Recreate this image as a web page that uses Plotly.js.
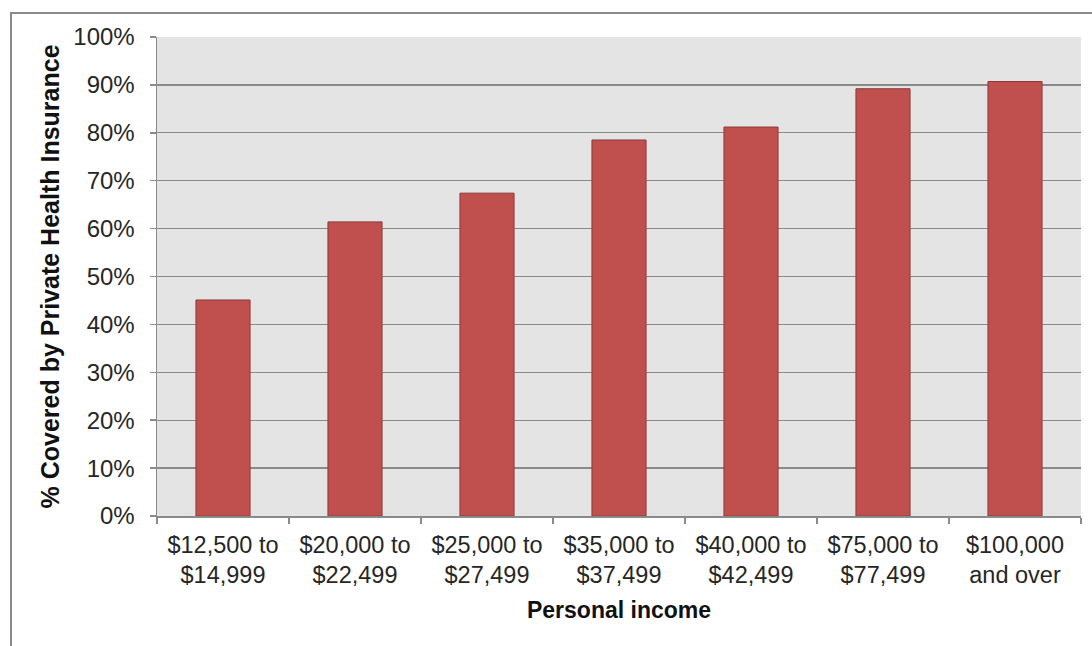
<!DOCTYPE html>
<html><head><meta charset="utf-8">
<script src="https://cdn.plot.ly/plotly-3.0.1.min.js"></script>
<style>
html,body{margin:0;padding:0;background:#fff;}
#chart{width:1092px;height:646px;}
#frame{position:absolute;left:10px;top:12px;width:1200px;height:800px;border-left:2px solid #8a8a8a;border-top:2px solid #8a8a8a;pointer-events:none;}
</style></head>
<body>
<div id="chart"></div>
<div id="frame"></div>
<script>
const categories = ["$12,500 to<br>$14,999","$20,000 to<br>$22,499","$25,000 to<br>$27,499","$35,000 to<br>$37,499","$40,000 to<br>$42,499","$75,000 to<br>$77,499","$100,000<br>and over"];
const coverage = [0.451, 0.614, 0.674, 0.785, 0.812, 0.892, 0.907];
const yTickVals = [0,0.1,0.2,0.3,0.4,0.5,0.6,0.7,0.8,0.9,1.0];
const yTickText = ["0%","10%","20%","30%","40%","50%","60%","70%","80%","90%","100%"];

const font = "Liberation Sans, Arial, sans-serif";
Plotly.newPlot("chart", [{
  type: "bar",
  x: categories,
  y: coverage,
  width: 0.41,
  marker: {color: "#C0504D", line: {color: "#8C3A38", width: 1}},
  hoverinfo: "none"
}], {
  width: 1092, height: 646,
  margin: {l: 157, r: 11, t: 37, b: 130},
  paper_bgcolor: "#ffffff",
  plot_bgcolor: "#E4E4E4",
  showlegend: false,
  font: {family: font, size: 24, color: "#262626"},
  xaxis: {
    type: "category",
    tickson: "boundaries",
    ticks: "outside", ticklen: 6, tickcolor: "#8a8a8a", tickwidth: 1.5,
    showline: true, linecolor: "#8a8a8a", linewidth: 1.5,
    showgrid: false,
    ticklabelstandoff: 7,
    tickfont: {family: font, size: 23.5, color: "#262626"},
    title: {text: "<b>Personal income</b>", font: {family: font, size: 23, color: "#111"}, standoff: 14},
    fixedrange: true
  },
  yaxis: {
    range: [0, 1.0],
    tickvals: yTickVals, ticktext: yTickText,
    ticks: "outside", ticklen: 6, tickcolor: "#8a8a8a", tickwidth: 1.5,
    showline: true, linecolor: "#8a8a8a", linewidth: 1.5,
    showgrid: true, gridcolor: "#8a8a8a", gridwidth: 1.3,
    zeroline: false,
    ticklabelstandoff: 10,
    tickfont: {family: font, size: 24, color: "#262626"},
    title: {text: "<b>% Covered by Private Health Insurance</b>", font: {family: font, size: 25, color: "#111"}, standoff: 6},
    fixedrange: true
  }
}, {displayModeBar: false, staticPlot: true});
</script>
</body></html>
